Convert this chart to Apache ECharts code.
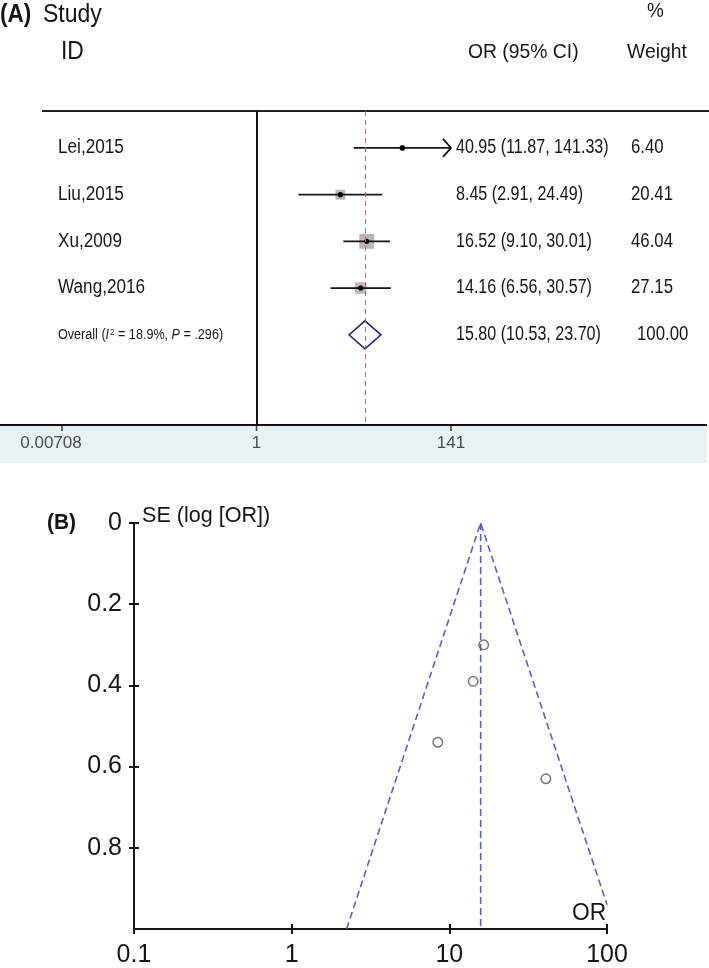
<!DOCTYPE html>
<html><head><meta charset="utf-8">
<script src="https://cdn.jsdelivr.net/npm/echarts@6/dist/echarts.min.js"></script>
<style>html,body{margin:0;padding:0;background:#fff}#c{width:709px;height:968px}</style>
</head><body><div id="c"></div>
<script>
// ---------- data ----------
const studies   = ['Lei,2015', 'Liu,2015', 'Xu,2009', 'Wang,2016'];
const orValues  = [40.95, 8.45, 16.52, 14.16];
const ciLower   = [11.87, 2.91, 9.10, 6.56];
const ciUpper   = [141.33, 24.49, 30.01, 30.57];
const weights   = [6.40, 20.41, 46.04, 27.15];
const overallOR = [15.80];
const overallCI = [10.53, 23.70];
const overallWeight = [100.00];
const overallI2 = ['18.9%'];
const overallP  = ['.296'];
const forestTicks = [0.00708, 1, 141];
const forestTickLabels = ['0.00708', '1', '141'];
const funnelSE  = [0.63, 0.54, 0.30, 0.39];
const funnelLimitOR = [2.23, 15.80, 100];
const funnelLimitSE = [1.0, 0, 0.94];
const funnelCenterSE = [0, 1.0];
const funnelYTicks = [0, 0.2, 0.4, 0.6, 0.8];

// ---------- styling / layout ----------
const FONT = "'Liberation Sans', Arial, Helvetica, sans-serif";
const INK = '#151515';
const F_YMIN = 0.21, F_YMAX = 6.93;
const COL_NAME = 58, COL_OR = 456, COL_W = 631;

const chart = echarts.init(document.getElementById('c'), null, {renderer: 'canvas'});

function txt(x, y, text, size, sx, extra) {
  return {type: 'text', x: x, y: y, scaleX: sx, z: 10, silent: true,
    style: Object.assign({text: text, fontSize: size, fontFamily: FONT, fill: INK,
      verticalAlign: 'middle', align: 'left'}, extra || {})};
}

const rowData = studies.map((s, i) => [orValues[i], i + 1, ciLower[i], ciUpper[i], weights[i]]);
const overallRow = studies.length + 1;
const fmt = v => v.toFixed(2);

const option = {
  animation: false,
  grid: [
    {left: 62, width: 389, top: 111, height: 314, outerBoundsMode: 'none', containLabel: false},
    {left: 134, width: 473, top: 523, height: 406, outerBoundsMode: 'none', containLabel: false}
  ],
  xAxis: [
    {gridIndex: 0, type: 'log', logBase: Math.E, min: forestTicks[0], max: forestTicks[forestTicks.length - 1],
      axisLine: {show: false}, axisTick: {show: false}, axisLabel: {show: false}, splitLine: {show: false}},
    {gridIndex: 1, type: 'log', logBase: 10, min: 0.1, max: 100, position: 'bottom',
      axisLine: {show: true, onZero: false, lineStyle: {color: INK, width: 2}},
      axisTick: {show: true, length: 5, lineStyle: {color: INK, width: 2}},
      axisLabel: {show: true, fontSize: 25, fontFamily: FONT, color: INK, margin: 14},
      splitLine: {show: false}},
    {gridIndex: 1, type: 'log', logBase: 10, min: 0.1, max: 100, position: 'bottom',
      axisLine: {show: false, onZero: false}, axisLabel: {show: false},
      axisTick: {show: true, inside: true, length: 5, lineStyle: {color: INK, width: 2}},
      splitLine: {show: false}}
  ],
  yAxis: [
    {gridIndex: 0, type: 'value', inverse: true, min: F_YMIN, max: F_YMAX, show: false},
    {gridIndex: 1, type: 'value', inverse: true, min: 0, max: 1, interval: 0.2, position: 'left',
      axisLine: {show: true, onZero: false, lineStyle: {color: INK, width: 2}},
      axisTick: {show: true, length: 5, customValues: funnelYTicks, lineStyle: {color: INK, width: 2}},
      axisLabel: {show: true, customValues: funnelYTicks, fontSize: 25, fontFamily: FONT, color: INK, margin: 12,
        formatter: v => String(+Number(v).toFixed(1))},
      splitLine: {show: false}},
    {gridIndex: 1, type: 'value', inverse: true, min: 0, max: 1, interval: 0.2, position: 'left',
      axisLine: {show: false, onZero: false}, axisLabel: {show: false},
      axisTick: {show: true, inside: true, length: 5, customValues: funnelYTicks, lineStyle: {color: INK, width: 2}},
      splitLine: {show: false}}
  ],
  graphic: [
    {type: 'rect', z: 0, silent: true, shape: {x: 0, y: 425, width: 707, height: 38}, style: {fill: '#e8f3f1'}},
    {type: 'line', z: 1, silent: true, shape: {x1: 42, y1: 111, x2: 709, y2: 111}, style: {stroke: '#222', lineWidth: 2}},
    {type: 'line', z: 1, silent: true, shape: {x1: 0, y1: 425, x2: 707, y2: 425}, style: {stroke: '#111', lineWidth: 2}},
    txt(0, 15, '(A)', 25, 0.9, {fontWeight: 'bold'}),
    txt(43, 15, 'Study', 25, 0.92),
    txt(647, 11, '%', 21, 0.9),
    txt(61, 52, 'ID', 26, 0.88),
    txt(468, 52, 'OR (95% CI)', 21, 0.92),
    txt(627, 52, 'Weight', 21, 0.92),
    txt(47, 523, '(B)', 22, 0.95, {fontWeight: 'bold'}),
    txt(142, 516, 'SE (log [OR])', 22, 0.98),
    txt(572, 913, 'OR', 24, 0.95)
  ],
  series: [
    // reference lines (x = 1 and x = overall OR)
    {type: 'line', xAxisIndex: 0, yAxisIndex: 0, data: [], z: 1, silent: true,
      markLine: {symbol: 'none', silent: true, label: {show: false}, animation: false,
        data: [
          {xAxis: 1, lineStyle: {color: INK, width: 2, type: 'solid'}},
          {xAxis: overallOR[0], lineStyle: {color: '#c25c66', width: 1, type: [5, 4]}}
        ]}},
    // study CIs, weight squares, point estimates
    {type: 'custom', xAxisIndex: 0, yAxisIndex: 0, z: 3, silent: true, clip: false,
      data: rowData,
      renderItem: function (params, api) {
        const est = api.value(0), row = api.value(1), lo = api.value(2), hi = api.value(3), w = api.value(4);
        const xmax = forestTicks[forestTicks.length - 1];
        const pE = api.coord([est, row]);
        const pL = api.coord([lo, row]);
        const pH = api.coord([Math.min(hi, xmax), row]);
        const side = 2.2 * Math.sqrt(w);
        const ch = [
          {type: 'rect', shape: {x: pE[0] - side / 2, y: pE[1] - side / 2, width: side, height: side}, style: {fill: '#b8b8b8'}},
          {type: 'line', shape: {x1: pL[0], y1: pL[1], x2: pH[0], y2: pH[1]}, style: {stroke: INK, lineWidth: 1.8}},
          {type: 'circle', shape: {cx: pE[0], cy: pE[1], r: 2.6}, style: {fill: '#000'}}
        ];
        if (hi > xmax) {
          ch.push({type: 'polyline', shape: {points: [[pH[0] - 8, pH[1] - 9], [pH[0], pH[1]], [pH[0] - 8, pH[1] + 9]]},
            style: {stroke: INK, lineWidth: 1.8, fill: null}});
        }
        return {type: 'group', children: ch};
      }},
    // overall diamond
    {type: 'custom', xAxisIndex: 0, yAxisIndex: 0, z: 3, silent: true, clip: false,
      data: [[overallOR[0], overallRow, overallCI[0], overallCI[1]]],
      renderItem: function (params, api) {
        const row = api.value(1);
        const c = api.coord([api.value(0), row]);
        const l = api.coord([api.value(2), row]);
        const r = api.coord([api.value(3), row]);
        const h = 14;
        return {type: 'polygon', shape: {points: [[l[0], c[1]], [c[0], c[1] - h], [r[0], c[1]], [c[0], c[1] + h]]},
          style: {stroke: '#232a80', lineWidth: 1.6, fill: 'rgba(255,255,255,0)'}};
      }},
    // table text for every row
    {type: 'custom', xAxisIndex: 0, yAxisIndex: 0, z: 4, silent: true, clip: false,
      data: studies.map((s, i) => [1, i + 1, i]).concat([[1, overallRow, -1]]),
      renderItem: function (params, api) {
        const row = api.value(1), idx = api.value(2);
        const y = api.coord([1, row])[1];
        const base = {fontFamily: FONT, fill: INK, verticalAlign: 'middle', align: 'left'};
        const t = (x, text, size, sx, more) => ({type: 'text', x: x, y: y, scaleX: sx,
          style: Object.assign({text: text, fontSize: size}, base, more || {})});
        if (idx >= 0) {
          return {type: 'group', children: [
            t(COL_NAME, studies[idx], 19.5, 0.88),
            t(COL_OR, fmt(orValues[idx]) + ' (' + fmt(ciLower[idx]) + ', ' + fmt(ciUpper[idx]) + ')', 19.5, 0.825),
            t(COL_W, fmt(weights[idx]), 19.5, 0.86)
          ]};
        }
        return {type: 'group', children: [
          t(COL_NAME, 'Overall ({i|I}{sup|2} = ' + overallI2[0] + ', {i|P} = ' + overallP[0] + ')', 14, 0.9, {
            rich: {i: {fontStyle: 'italic', fontSize: 14, fontFamily: FONT, fill: INK},
                   sup: {fontSize: 9, fontFamily: FONT, fill: INK, verticalAlign: 'top', padding: [0, 0, 0, 1]}}}),
          t(COL_OR, fmt(overallOR[0]) + ' (' + fmt(overallCI[0]) + ', ' + fmt(overallCI[1]) + ')', 19.5, 0.825),
          t(COL_W + 6, fmt(overallWeight[0]), 19.5, 0.86)
        ]};
      }},
    // forest axis ticks + labels
    {type: 'scatter', xAxisIndex: 0, yAxisIndex: 0, z: 5, silent: true, clip: false,
      symbol: 'rect', symbolSize: [1.6, 6], symbolOffset: [0, 3], itemStyle: {color: INK},
      data: forestTicks.map((v, i) => ({value: [v, F_YMAX],
        label: {formatter: forestTickLabels[i], offset: [i === 0 ? -11 : 0, 0]}})),
      label: {show: true, position: 'bottom', distance: 4, fontSize: 17, fontFamily: FONT, color: '#222'}},
    // funnel pseudo-95% limits
    {type: 'line', xAxisIndex: 1, yAxisIndex: 1, symbol: 'none', silent: true, z: 2,
      data: funnelLimitOR.map((x, i) => [x, funnelLimitSE[i]]),
      lineStyle: {color: '#5a5ae0', width: 1.6, type: [7, 4]}},
    // funnel centre line
    {type: 'line', xAxisIndex: 1, yAxisIndex: 1, symbol: 'none', silent: true, z: 2,
      data: funnelCenterSE.map(s => [overallOR[0], s]),
      lineStyle: {color: '#5a5ae0', width: 1.6, type: [7, 4]}},
    // studies
    {type: 'scatter', xAxisIndex: 1, yAxisIndex: 1, z: 3, silent: true,
      data: orValues.map((x, i) => [x, funnelSE[i]]),
      symbol: 'circle', symbolSize: 9.5,
      itemStyle: {color: 'rgba(255,255,255,0)', borderColor: '#555', borderWidth: 1.5}}
  ]
};
chart.setOption(option);
</script></body></html>
